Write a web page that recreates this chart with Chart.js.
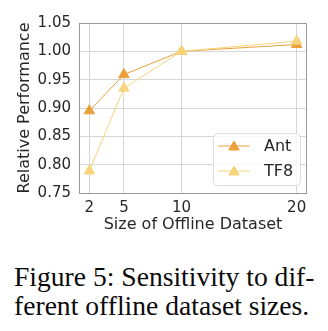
<!DOCTYPE html>
<html>
<head>
<meta charset="utf-8">
<script src="https://cdn.jsdelivr.net/npm/chart.js@4.4.0/dist/chart.umd.min.js"></script>
<style>
    html, body { margin: 0; padding: 0; background: #ffffff; }
    #wrap { position: relative; width: 328px; height: 331px; }
    #chartBox { position: absolute; left: 0; top: 0; width: 328px; height: 240px; }
    #caption {
        position: absolute; left: 14px; top: 262px; width: 320px;
        font-family: "Liberation Serif", "Times New Roman", serif;
        font-size: 27.6px; line-height: 29px; color: #0a0a0a; white-space: nowrap;
    }
</style>
</head>
<body>
<div id="wrap">
    <div id="chartBox"><canvas id="sizeChart" width="328" height="240"></canvas></div>
    <div id="caption">Figure 5: Sensitivity to dif-<br>ferent offline dataset sizes.</div>
</div>
<script>
// Dataset sizes on the x axis and relative performance per environment
const datasetSizes = [2, 5, 10, 20];
const antValues = [0.895, 0.959, 1.000, 1.012];
const tf8Values = [0.789, 0.935, 1.000, 1.018];
const seriesLabels = ['Ant', 'TF8'];
const seriesColors = ['#EBA03A', '#F7D47A'];
const yTicks = [0.75, 0.80, 0.85, 0.90, 0.95, 1.00, 1.05];

const TEXT_COLOR = '#262626';
const FONT = 'DejaVu Sans';

function toPoints(values) {
    return datasetSizes.map((x, i) => ({ x: x, y: values[i] }));
}

// Gray frame around the plot area, like matplotlib spines
const framePlugin = {
    id: 'frame',
    afterDatasetsDraw(chart) {
        const { ctx, chartArea: a } = chart;
        ctx.save();
        ctx.strokeStyle = '#9a9a9a';
        ctx.lineWidth = 1;
        ctx.strokeRect(Math.round(a.left) + 0.5, Math.round(a.top) + 0.5,
            Math.round(a.right - a.left) - 1, Math.round(a.bottom - a.top));
        ctx.restore();
    }
};

// Legend box drawn with a line sample and marker for each series
const lineLegendPlugin = {
    id: 'lineLegend',
    afterDraw(chart) {
        const { ctx, chartArea: a } = chart;
        const boxW = 87, boxH = 52;
        const bx = a.right - 7 - boxW;
        const by = a.bottom - 8 - boxH;
        ctx.save();
        ctx.beginPath();
        ctx.roundRect(bx + 0.5, by + 0.5, boxW, boxH, 4);
        ctx.fillStyle = 'rgba(255,255,255,0.8)';
        ctx.fill();
        ctx.strokeStyle = '#dddddd';
        ctx.lineWidth = 1;
        ctx.stroke();

        chart.data.datasets.forEach((ds, i) => {
            const cy = by + 13 + i * 25;
            ctx.beginPath();
            ctx.moveTo(bx + 5, cy);
            ctx.lineTo(bx + 37, cy);
            ctx.strokeStyle = ds.borderColor;
            ctx.lineWidth = 1;
            ctx.stroke();
            ctx.fillStyle = ds.pointBackgroundColor;
            ctx.strokeStyle = ds.pointBorderColor;
            ctx.beginPath();
            Chart.helpers.drawPoint(ctx, {
                pointStyle: 'triangle',
                radius: ds.pointRadius,
                borderWidth: 1
            }, bx + 21, cy + 1);

            ctx.fillStyle = TEXT_COLOR;
            ctx.font = '16px "' + FONT + '"';
            ctx.textBaseline = 'middle';
            ctx.textAlign = 'left';
            ctx.fillText(ds.label, bx + 51, cy + 1);
        });
        ctx.restore();
    }
};

const seriesValues = [antValues, tf8Values];

new Chart(document.getElementById('sizeChart'), {
    type: 'line',
    data: {
        datasets: seriesValues.map((vals, i) => ({
            label: seriesLabels[i],
            data: toPoints(vals),
            borderColor: seriesColors[i],
            backgroundColor: seriesColors[i],
            pointBackgroundColor: seriesColors[i],
            pointBorderColor: seriesColors[i],
            pointStyle: 'triangle',
            pointRadius: 6,
            pointBorderWidth: 1,
            borderWidth: 1,
            tension: 0,
            order: seriesValues.length - i
        }))
    },
    options: {
        responsive: false,
        animation: false,
        devicePixelRatio: 1,
        layout: { padding: { left: 0, right: 21, top: 23, bottom: 0 } },
        plugins: {
            legend: { display: false },
            tooltip: { enabled: false }
        },
        scales: {
            x: {
                type: 'linear',
                min: 1.1,
                max: 20.9,
                afterBuildTicks: (scale) => {
                    scale.ticks = datasetSizes.map(v => ({ value: v }));
                },
                afterFit: (scale) => { scale.height = 47; },
                grid: { color: '#d6d6d6', drawTicks: false, tickLength: 0 },
                border: { display: false },
                ticks: {
                    color: TEXT_COLOR,
                    font: { family: FONT, size: 15 },
                    padding: 6,
                    maxRotation: 0
                },
                title: {
                    display: true,
                    text: 'Size of Offline Dataset',
                    color: TEXT_COLOR,
                    font: { family: FONT, size: 16 },
                    padding: { top: 0, bottom: 6 }
                }
            },
            y: {
                min: 0.75,
                max: 1.05,
                afterBuildTicks: (scale) => {
                    scale.ticks = yTicks.map(v => ({ value: v }));
                },
                afterFit: (scale) => { scale.width = 79; },
                grid: { color: '#d6d6d6', drawTicks: false, tickLength: 0 },
                border: { display: false },
                ticks: {
                    color: TEXT_COLOR,
                    font: { family: FONT, size: 15 },
                    padding: 8,
                    callback: (v) => v.toFixed(2)
                },
                title: {
                    display: true,
                    text: 'Relative Performance',
                    color: TEXT_COLOR,
                    font: { family: FONT, size: 16 },
                    padding: { top: 15, bottom: 0 }
                }
            }
        }
    },
    plugins: [framePlugin, lineLegendPlugin]
});
</script>
</body>
</html>
